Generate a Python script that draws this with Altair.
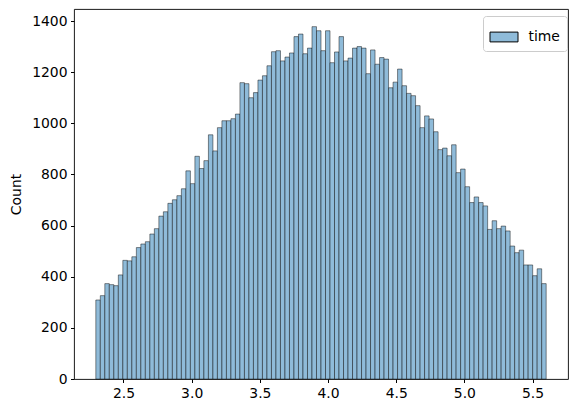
import altair as alt
import pandas as pd

# Histogram bin counts (100 equal-width bins)
counts = [309, 326, 373, 369, 365, 407, 464, 462, 478, 514,
          528, 537, 567, 588, 637, 654, 687, 701, 717, 744,
          814, 764, 871, 823, 854, 955, 892, 983, 1010, 1010,
          1018, 1036, 1159, 1155, 1100, 1120, 1169, 1186, 1225, 1280,
          1284, 1244, 1259, 1275, 1339, 1349, 1272, 1294, 1378, 1362,
          1284, 1362, 1237, 1279, 1339, 1244, 1255, 1294, 1300, 1294,
          1194, 1287, 1231, 1257, 1251, 1139, 1161, 1212, 1147, 1117,
          1108, 1069, 983, 1029, 1017, 967, 897, 903, 873, 916,
          807, 821, 752, 690, 712, 690, 677, 585, 619, 588,
          598, 579, 520, 494, 504, 446, 446, 404, 431, 373]
bin_min = 2.297
bin_max = 5.600
series_name = "time"
x_ticks = [2.5, 3.0, 3.5, 4.0, 4.5, 5.0, 5.5]
y_ticks = [0, 200, 400, 600, 800, 1000, 1200, 1400]

n = len(counts)
w = (bin_max - bin_min) / n
df = pd.DataFrame({
    "start": [bin_min + i * w for i in range(n)],
    "end": [bin_min + (i + 1) * w for i in range(n)],
    "count": counts,
    "series": [series_name] * n,
})

FONT = "DejaVu Sans"
FS = 13.9

chart = alt.Chart(df).mark_bar(
    fill="#8fbbd9", stroke="black", strokeOpacity=0.5, strokeWidth=0.9
).encode(
    x=alt.X("start:Q", title=None,
            scale=alt.Scale(domain=[2.137, 5.76], nice=False, zero=False),
            axis=alt.Axis(values=x_ticks, format=".1f", grid=False, domain=False,
                          tickSize=3.5, labelPadding=3.5, tickColor="black",
                          labelColor="black", labelFont=FONT, labelFontSize=FS)),
    x2="end:Q",
    y=alt.Y("count:Q", title="Count",
            scale=alt.Scale(domain=[0, 1447], nice=False),
            axis=alt.Axis(values=y_ticks, format="d", grid=False, domain=False,
                          tickSize=3.5, labelPadding=3.5, tickColor="black",
                          labelColor="black", labelFont=FONT, labelFontSize=FS,
                          titleFont=FONT, titleFontSize=FS, titleFontWeight="normal",
                          titleColor="black", titlePadding=8)),
    y2=alt.datum(0),
    color=alt.Color("series:N", scale=alt.Scale(range=["#8fbbd9"]),
                    legend=alt.Legend(
                        title=None, orient="none", legendX=409, legendY=7,
                        symbolType="M-1,-0.35L1,-0.35L1,0.35L-1,0.35Z",
                        symbolSize=784, symbolStrokeColor="black",
                        symbolStrokeWidth=1, symbolOpacity=1,
                        labelFont=FONT, labelFontSize=FS, labelColor="black",
                        labelOffset=10, padding=6.5, strokeColor="#cccccc",
                        fillColor="white", cornerRadius=3)),
).properties(
    width=494, height=370,
    autosize=alt.AutoSizeParams(type="none"),
    padding={"left": 66, "top": 1, "right": 4, "bottom": 26},
).configure_view(
    stroke="black", strokeWidth=0.9
)

chart.save("out.html", embed_options={"renderer": "svg", "actions": False})
